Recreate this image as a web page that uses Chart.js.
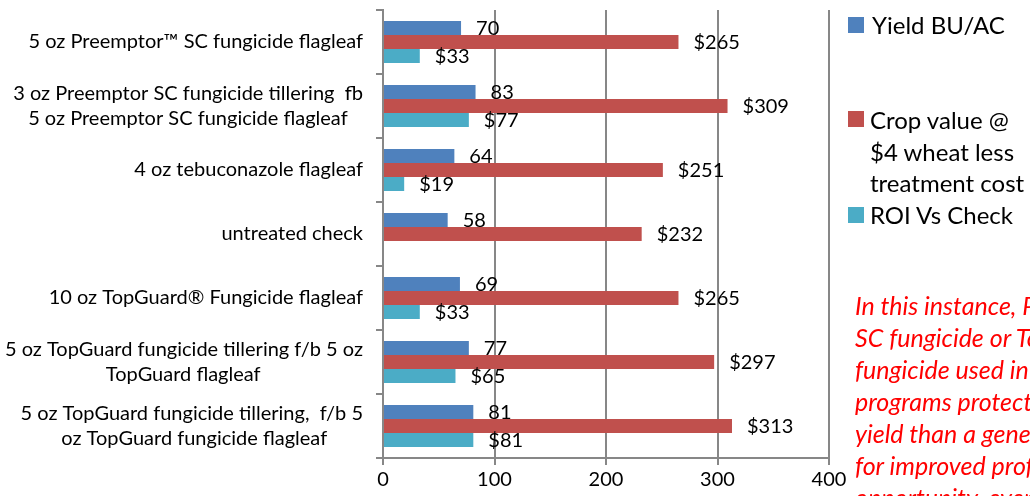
<!DOCTYPE html>
<html>
<head>
<meta charset="utf-8">
<script src="https://cdn.jsdelivr.net/npm/chart.js@4.4.1/dist/chart.umd.min.js"></script>
<style>
  html, body { margin: 0; padding: 0; background: #fff; overflow: hidden; }
  #wrap { position: relative; width: 1030px; height: 496px; overflow: hidden; }
  #c { position: absolute; left: 0; top: 0; }
  .leg { position: absolute; font-family: Lato, sans-serif; font-size: 24px; color: #000; line-height: 31.5px; white-space: nowrap; }
  .sq { position: absolute; width: 16px; height: 16px; }
  #note { position: absolute; left: 855px; top: 289px; font-family: Lato, sans-serif; font-style: italic; font-size: 25px; line-height: 32px; color: #ff0000; white-space: nowrap; }
</style>
</head>
<body>
<div id="wrap">
  <canvas id="c" width="1030" height="496"></canvas>
  <div class="sq" style="left:848px;top:17px;background:#4F81BD"></div>
  <div class="leg" style="left:872px;top:9px">Yield BU/AC</div>
  <div class="sq" style="left:848px;top:111px;background:#C0504D"></div>
  <div class="leg" style="left:870px;top:104px">Crop value @<br>$4 wheat less<br>treatment cost</div>
  <div class="sq" style="left:848px;top:207px;background:#4BACC6"></div>
  <div class="leg" style="left:870px;top:199px">ROI Vs Check</div>
  <div id="note">In this instance, Preemptor<br>SC fungicide or TopGuard<br>fungicide used in fungicide<br>programs protected more<br>yield than a generic, allowing<br>for improved profit<br>opportunity, even with</div>
</div>
<script>
const categories = [
  ["5 oz Preemptor™ SC fungicide flagleaf"],
  ["3 oz Preemptor SC fungicide tillering  fb", "5 oz Preemptor SC fungicide flagleaf"],
  ["4 oz tebuconazole flagleaf"],
  ["untreated check"],
  ["10 oz TopGuard® Fungicide flagleaf"],
  ["5 oz TopGuard fungicide tillering f/b 5 oz", "TopGuard flagleaf"],
  ["5 oz TopGuard fungicide tillering,  f/b 5", "oz TopGuard fungicide flagleaf"]
];
const yieldBu = [70, 83, 64, 58, 69, 77, 81];
const cropValue = [265, 309, 251, 232, 265, 297, 313];
const roiVsCheck = [33, 77, 19, null, 33, 65, 81];
const xTicks = [0, 100, 200, 300, 400];

const CAT_FONT = '20px Lato';
const mctx = document.createElement('canvas').getContext('2d');
function centerLines(lines) {
  if (lines.length < 2) return lines[0];
  mctx.font = CAT_FONT;
  const ws = lines.map(l => mctx.measureText(l).width);
  const max = Math.max(...ws);
  const sp = mctx.measureText(' ').width;
  return lines.map((l, i) => l + ' '.repeat(Math.round((max - ws[i]) / 2 / sp)));
}

const labelPlugin = {
  id: 'barLabels',
  afterDatasetsDraw(chart) {
    const ctx = chart.ctx;
    ctx.save();
    ctx.font = '20px Lato';
    ctx.fillStyle = '#000';
    ctx.textAlign = 'left';
    ctx.textBaseline = 'middle';
    chart.data.datasets.forEach((ds, i) => {
      const meta = chart.getDatasetMeta(i);
      meta.data.forEach((bar, j) => {
        const v = ds.data[j];
        if (v == null) return;
        ctx.fillText((ds.prefix || '') + v, bar.x + 15, bar.y + 1);
      });
    });
    ctx.restore();
  }
};

new Chart(document.getElementById('c'), {
  type: 'bar',
  data: {
    labels: categories.map(centerLines),
    datasets: [
      { label: 'Yield BU/AC', data: yieldBu, backgroundColor: '#4F81BD', prefix: '' },
      { label: 'Crop value @ $4 wheat less treatment cost', data: cropValue, backgroundColor: '#C0504D', prefix: '$' },
      { label: 'ROI Vs Check', data: roiVsCheck, backgroundColor: '#4BACC6', prefix: '$' }
    ]
  },
  options: {
    indexAxis: 'y',
    responsive: false,
    animation: false,
    devicePixelRatio: 1,
    layout: { padding: { top: 10, right: 201, left: 0, bottom: 0 } },
    datasets: { bar: { categoryPercentage: 0.656, barPercentage: 1 } },
    plugins: { legend: { display: false }, tooltip: { enabled: false } },
    scales: {
      x: {
        min: 0, max: 400,
        afterBuildTicks: s => { s.ticks = xTicks.map(v => ({ value: v })); },
        afterFit: s => { s.height = 38; s.paddingLeft = 0; s.paddingRight = 0; },
        grid: { color: '#878787', lineWidth: 2, tickLength: 7, drawTicks: true },
        border: { display: true, color: '#878787', width: 2 },
        ticks: { font: { family: 'Lato', size: 20 }, color: '#000', padding: 3 }
      },
      y: {
        afterFit: s => { s.width = 383; s.paddingTop = 0; s.paddingBottom = 0; },
        grid: { drawOnChartArea: false, color: '#878787', lineWidth: 2, tickLength: 7, offset: true },
        border: { display: true, color: '#878787', width: 2 },
        ticks: { font: { family: 'Lato', size: 20, lineHeight: 1.25 }, color: '#000', padding: 13 }
      }
    }
  },
  plugins: [labelPlugin]
});
</script>
</body>
</html>
